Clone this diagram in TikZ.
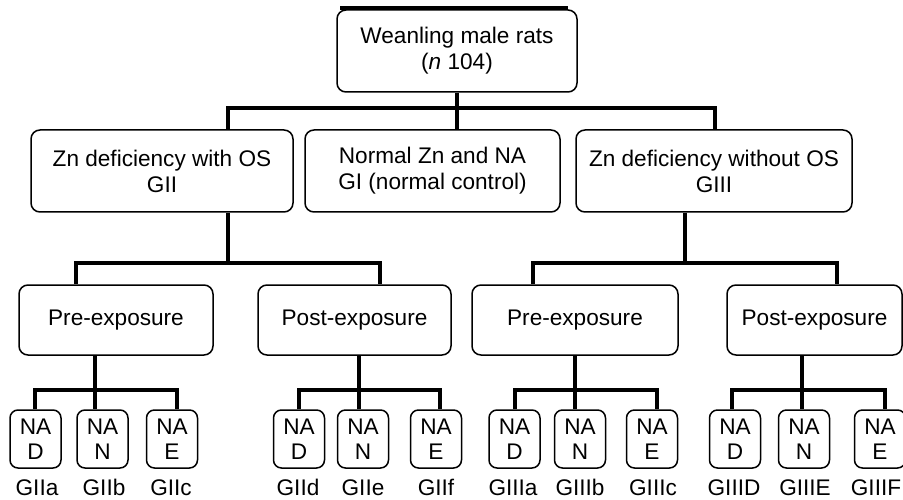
\documentclass[tikz,border=0pt]{standalone}
\usepackage{fontspec}
\setmainfont{Liberation Sans}
\begin{document}
\begin{tikzpicture}[x=1pt,y=-1pt,
  box/.style={draw, line width=1.5pt, rounded corners=9pt, align=center, inner sep=0pt,
    font=\fontsize{22.6}{26}\selectfont},
  small/.style={box, minimum width=51pt, minimum height=58pt, rounded corners=8pt,
    font=\fontsize{22.6}{25}\selectfont},
  lbl/.style={inner sep=0pt, anchor=base, font=\fontsize{22.6}{26}\selectfont},
  conn/.style={line width=4.5pt, line join=miter}]
\useasboundingbox (0,0) rectangle (903,500);

% level 1
\node[box, minimum width=240pt, minimum height=82pt] (top) at (457,51)
  {Weanling male rats\\(\textit{n} 104)};
\draw[line width=3.5pt] ([xshift=4pt,yshift=1pt]top.north west) -- ([xshift=-10pt,yshift=1pt]top.north east);

% level 2
\node[box, minimum width=262pt, minimum height=82pt] (b1) at (162,171)
  {Zn deficiency with OS\\GII};
\node[box, minimum width=255pt, minimum height=82pt] (b2) at (432.5,171)
  {Normal Zn and NA\\GI (normal control)};
\node[box, minimum width=276pt, minimum height=82pt] (b3) at (714,171)
  {Zn deficiency without OS\\GIII};

% level 3
\node[box, minimum width=194pt, minimum height=70pt] (pre1) at (116,320) {Pre-exposure};
\node[box, minimum width=193pt, minimum height=70pt] (post1) at (354.5,320) {Post-exposure};
\node[box, minimum width=206pt, minimum height=70pt] (pre2) at (575,320) {Pre-exposure};
\node[box, minimum width=175pt, minimum height=70pt] (post2) at (814.5,320) {Post-exposure};

% level 4
\foreach \n/\x/\t/\l/\lx in {a/35.5/D/GIIa/37, b/102.5/N/GIIb/104, c/172/E/GIIc/171,
    d/299/D/GIId/298, e/363/N/GIIe/363, f/436/E/GIIf/436,
    g/514.5/D/GIIIa/513, h/580/N/GIIIb/580, i/652/E/GIIIc/653,
    j/735/D/GIIID/734, k/804/N/GIIIE/805, l/880/E/GIIIF/876}{
  \node[small] (s\n) at (\x,439) {NA\\\t};
  \node[lbl] (l\n) at (\lx,495) {\l};
}

% connectors level 1 -> 2
\coordinate (ja) at (228,108);
\coordinate (jc) at (715,108);
\draw[conn] (b1.north -| ja) -- (ja) -- (jc) -- (b3.north -| jc);
\draw[conn] (top.south) -- (top.south |- b2.north);

% connectors level 2 -> 3
\coordinate (k1) at (228,263);
\coordinate (k1a) at (76,263);
\coordinate (k1b) at (380,263);
\draw[conn] (b1.south -| k1) -- (k1);
\draw[conn] (pre1.north -| k1a) -- (k1a) -- (k1b) -- (post1.north -| k1b);
\coordinate (k2) at (685,263);
\coordinate (k2a) at (533,263);
\coordinate (k2b) at (837,263);
\draw[conn] (b3.south -| k2) -- (k2);
\draw[conn] (pre2.north -| k2a) -- (k2a) -- (k2b) -- (post2.north -| k2b);

% connectors level 3 -> 4
\foreach \p/\m/\la/\lb/\lc/\na/\nb/\nc in {
    pre1/95/35/95/177/a/b/c,
    post1/359/299/359/440/d/e/f,
    pre2/575/515/575/657/g/h/i,
    post2/802/732/802/885/j/k/l}{
  \draw[conn] (\p.south -| \m,0) -- (\m,390);
  \draw[conn] (s\na.north -| \la,0) -- (\la,390) -- (\lc,390) -- (s\nc.north -| \lc,0);
  \draw[conn] (\lb,390) -- (s\nb.north -| \lb,0);
}
\end{tikzpicture}
\end{document}
